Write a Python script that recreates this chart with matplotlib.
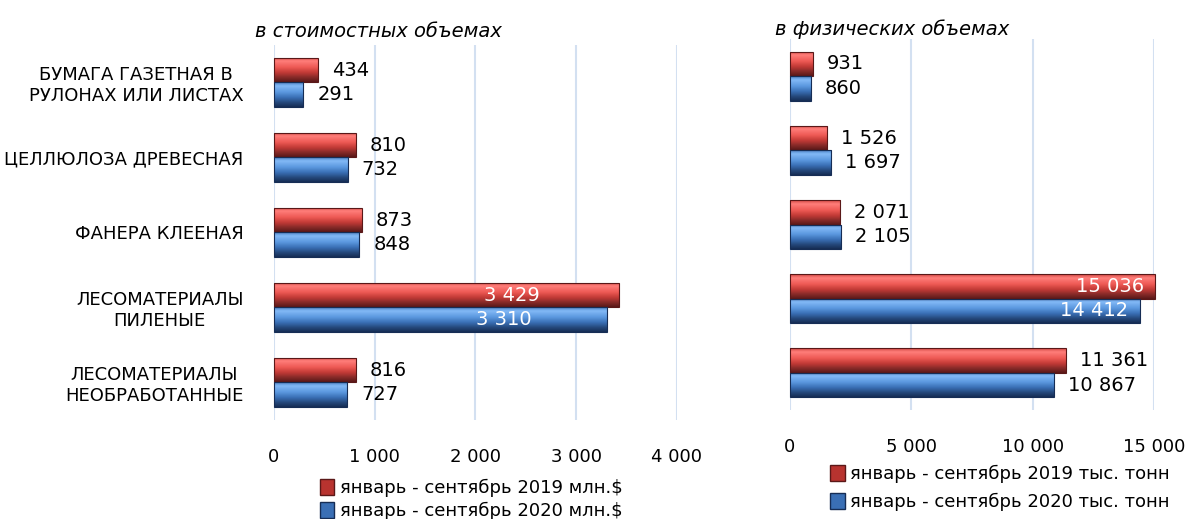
import numpy as np
import matplotlib.pyplot as plt
from matplotlib.colors import LinearSegmentedColormap
from matplotlib.patches import Patch

categories = ["БУМАГА ГАЗЕТНАЯ В\nРУЛОНАХ ИЛИ ЛИСТАХ", "ЦЕЛЛЮЛОЗА ДРЕВЕСНАЯ",
              "ФАНЕРА КЛЕЕНАЯ", "ЛЕСОМАТЕРИАЛЫ\nПИЛЕНЫЕ", "ЛЕСОМАТЕРИАЛЫ\nНЕОБРАБОТАННЫЕ"]
cost_2019 = [434, 810, 873, 3429, 816]
cost_2020 = [291, 732, 848, 3310, 727]
phys_2019 = [931, 1526, 2071, 15036, 11361]
phys_2020 = [860, 1697, 2105, 14412, 10867]
cost_ticks = [0, 1000, 2000, 3000, 4000]
phys_ticks = [0, 5000, 10000, 15000]

red_cmap = LinearSegmentedColormap.from_list("r", [
    (0.0, "#d24844"), (0.15, "#ff7e7a"), (0.4, "#ee5a55"),
    (0.62, "#c23a36"), (0.82, "#862a28"), (1.0, "#5a1818")])
blue_cmap = LinearSegmentedColormap.from_list("b", [
    (0.0, "#4a83c8"), (0.15, "#82b9f6"), (0.4, "#5b98df"),
    (0.62, "#3a6fb5"), (0.82, "#25497c"), (1.0, "#162d55")])
grad = np.linspace(0, 1, 64).reshape(-1, 1)


def fmt(v):
    return f"{v:,}".replace(",", " ")


def bevel_bars(ax, y, vals, h, cmap, edge):
    bars = ax.barh(y, vals, height=h, color="none", edgecolor=edge, lw=0.8, zorder=3,
                   clip_on=False)
    for b in bars:
        x0, y0 = b.get_x(), b.get_y()
        im = ax.imshow(grad, cmap=cmap, aspect="auto", zorder=2,
                       extent=(x0, x0 + b.get_width(), y0 + b.get_height(), y0))
        im.set_clip_path(b)
    return bars


def panel(ax, v19, v20, ticks, xmax, title, title_x, inside_mode):
    y = np.arange(len(categories))
    h = 0.33
    bevel_bars(ax, y - h / 2, v19, h, red_cmap, "#5a1818")
    bevel_bars(ax, y + h / 2, v20, h, blue_cmap, "#162d55")
    ax.set_xlim(0, xmax)
    ax.set_ylim(len(categories) - 0.5, -0.5)
    ax.set_xticks(ticks)
    ax.set_xticklabels([fmt(t) for t in ticks], fontsize=13)
    ax.tick_params(axis="x", length=0, pad=20)
    ax.tick_params(axis="y", length=0)
    ax.grid(axis="x", color="#d3e0f1", lw=1.5, zorder=0)
    ax.set_axisbelow(True)
    for s in ax.spines.values():
        s.set_visible(False)
    ax.set_title(title, fontsize=14, style="italic", x=title_x, pad=2)
    big = max(v19)
    for vals, dy in ((v19, -h / 2), (v20, h / 2)):
        for i, v in enumerate(vals):
            if v > big * 0.9:
                if inside_mode == "end":
                    ax.annotate(fmt(v), (v, i + dy), xytext=(-8, 0), textcoords="offset points",
                                ha="right", va="center", color="white", fontsize=14,
                                annotation_clip=False)
                else:
                    ax.text(v * 0.69, i + dy, fmt(v), ha="center", va="center",
                            color="white", fontsize=14)
            else:
                ax.annotate(fmt(v), (v, i + dy), xytext=(10, 0), textcoords="offset points",
                            ha="left", va="center", fontsize=14)


fig = plt.figure(figsize=(11.87, 5.19), dpi=100)
ax1 = fig.add_axes([0.2308, 0.1908, 0.3395, 0.7225])
ax2 = fig.add_axes([0.6655, 0.210, 0.3067, 0.7148])

panel(ax1, cost_2019, cost_2020, cost_ticks, 4000, "в стоимостных объемах", 0.26, "mid")
ax1.set_title("в стоимостных объемах", fontsize=14, style="italic", x=0.26, pad=6)
ax1.set_yticks(range(len(categories)))
ax1.set_yticklabels(categories, fontsize=13, multialignment="center")
ax1.tick_params(axis="y", pad=22)

panel(ax2, phys_2019, phys_2020, phys_ticks, 15000, "в физических объемах", 0.28, "end")
ax2.set_yticks([])

h1 = [Patch(facecolor="#b8332f", edgecolor="#5a1818"), Patch(facecolor="#3a6fb5", edgecolor="#162d55")]
fig.legend(h1, ["январь - сентябрь 2019 млн.$", "январь - сентябрь 2020 млн.$"],
           loc="upper left", bbox_to_anchor=(0.262, 0.095), frameon=False, fontsize=13,
           handlelength=0.8, handleheight=1.0, handletextpad=0.3, labelspacing=0.25,
           borderpad=0)
fig.legend(h1, ["январь - сентябрь 2019 тыс. тонн", "январь - сентябрь 2020 тыс. тонн"],
           loc="upper left", bbox_to_anchor=(0.692, 0.121), frameon=False, fontsize=13,
           handlelength=0.8, handleheight=1.0, handletextpad=0.3, labelspacing=0.5,
           borderpad=0)

fig.savefig("out.png", dpi=100)
